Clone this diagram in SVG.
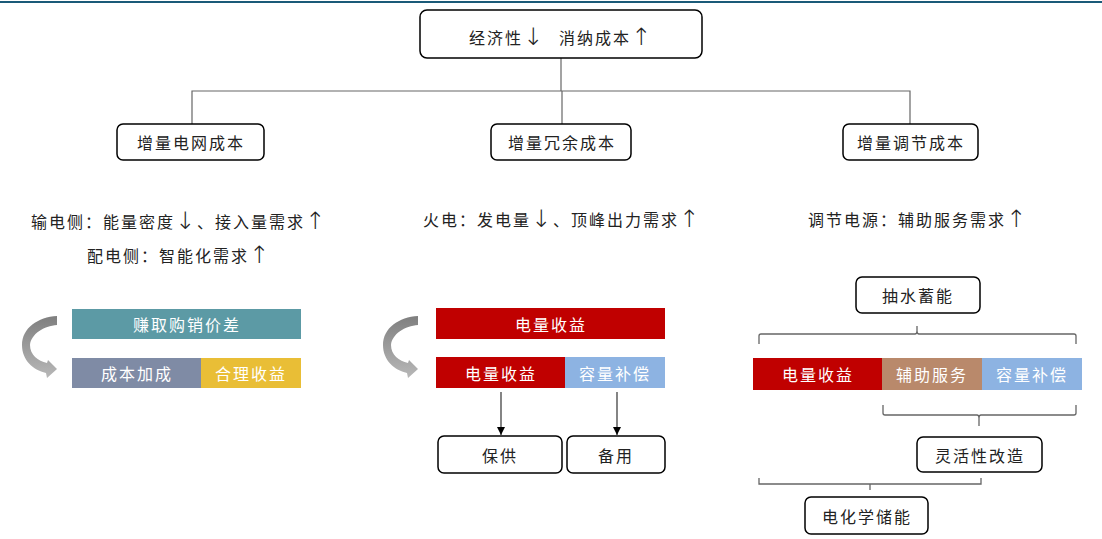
<svg xmlns="http://www.w3.org/2000/svg" width="1102" height="539" viewBox="0 0 1102 539">
<defs>
<style>
.box{fill:#fff;stroke:#000;stroke-width:1.5}
.t{font-family:"Noto Sans CJK SC","Noto Sans",sans-serif;font-size:16px;fill:#222;text-anchor:middle;dominant-baseline:central;letter-spacing:2px}
.w{fill:#fff}
.ln{fill:none;stroke:#666;stroke-width:1.2}
.br{fill:none;stroke:#666;stroke-width:1.3}
.ar{fill:none;stroke:#333;stroke-width:1.2;marker-end:url(#ah)}
.big{font-family:"DejaVu Sans",sans-serif;font-size:24px;font-weight:300}
</style>
<marker id="ah" viewBox="0 0 10 10" refX="10" refY="5" markerWidth="7" markerHeight="7" orient="auto"><path d="M0,0 L10,5 L0,10 Z" fill="#000"/></marker>
<linearGradient id="cg" x1="0" y1="0" x2="0" y2="1"><stop offset="0" stop-color="#7f7f7f"/><stop offset="1" stop-color="#b8b8b8"/></linearGradient>
<path id="carrow" d="M57,316 L57,325 C44,326 31,334 30,345 C30,355 38,361 47,363 L48,360 L57,369 L47,378 L46,373 C33,370 22,360 22,345 C22,328 38,317 57,316 Z" fill="url(#cg)"/>
</defs>
<rect width="1102" height="539" fill="#fff"/>
<line x1="0" y1="2" x2="1102" y2="2" stroke="#1a5a78" stroke-width="2"/>
<g id="connectors">
<polyline class="ln" points="561,58 561,91"/>
<polyline class="ln" points="192,124 192,91 910,91 910,124"/>
<line class="ln" x1="562" y1="91" x2="562" y2="124"/>
<line class="ar" x1="501" y1="392" x2="501" y2="435"/>
<line class="ar" x1="617" y1="392" x2="617" y2="435"/>
<path class="br" d="M759,344 L759,336 Q759,334 761,334 L915,334 Q917,334 917,331 L917,326 M917,331 Q917,334 919,334 L1074,334 Q1076,334 1076,336 L1076,344"/>
<path class="br" d="M883,405 L883,413 Q883,415 885,415 L977,415 Q979,415 979,418 L979,426 M979,418 Q979,415 981,415 L1074,415 Q1076,415 1076,413 L1076,405"/>
<path class="br" d="M759,478 L759,484 L981,484 L981,478 M870,484 L870,490"/>
</g>
<g id="top"><rect class="box" x="420" y="10" width="282" height="48" rx="7"/>
<text class="t" x="561" y="37" letter-spacing="3">经济性<tspan class="big">↓</tspan><tspan dx="14">消纳成本</tspan><tspan class="big">↑</tspan></text></g>
<g id="n1"><rect class="box" x="117" y="124" width="147" height="36" rx="6"/><text class="t" x="191" y="142">增量电网成本</text></g>
<g id="n2"><rect class="box" x="491" y="124" width="140" height="36" rx="6"/><text class="t" x="562" y="142">增量冗余成本</text></g>
<g id="n3"><rect class="box" x="843" y="124" width="135" height="36" rx="6"/><text class="t" x="911" y="142">增量调节成本</text></g>
<g id="desc1"><text class="t" x="179" y="221" letter-spacing="3">输电侧：能量密度<tspan class="big">↓</tspan>、接入量需求<tspan class="big">↑</tspan></text>
<text class="t" x="179" y="255" letter-spacing="3">配电侧：智能化需求<tspan class="big">↑</tspan></text></g>
<g id="desc2"><text class="t" x="562" y="219" letter-spacing="3">火电：发电量<tspan class="big">↓</tspan>、顶峰出力需求<tspan class="big">↑</tspan></text></g>
<g id="desc3"><text class="t" x="918" y="219" letter-spacing="3">调节电源：辅助服务需求<tspan class="big">↑</tspan></text></g>
<g id="left">
<use href="#carrow"/>
<rect x="72" y="309" width="229" height="30" fill="#5c9aa5"/><text class="t w" x="187" y="324">赚取购销价差</text>
<rect x="72" y="358" width="129" height="30" fill="#7f8ba5"/><text class="t w" x="137" y="373">成本加成</text>
<rect x="201" y="358" width="100" height="30" fill="#e9be36"/><text class="t w" x="251" y="373">合理收益</text>
</g>
<g id="mid">
<use href="#carrow" transform="translate(361,0)"/>
<rect x="436" y="308" width="229" height="31" fill="#c00000"/><text class="t w" x="551" y="324">电量收益</text>
<rect x="436" y="357" width="129" height="31" fill="#c00000"/><text class="t w" x="501" y="373">电量收益</text>
<rect x="565" y="357" width="100" height="31" fill="#8db3e2"/><text class="t w" x="615" y="373">容量补偿</text>
</g>
<g id="baogong"><rect class="box" x="438" y="436" width="124" height="37" rx="6"/><text class="t" x="500" y="455">保供</text></g>
<g id="beiyong"><rect class="box" x="567" y="436" width="98" height="37" rx="6"/><text class="t" x="616" y="455">备用</text></g>
<g id="right">
<rect x="753" y="358" width="129" height="32" fill="#c00000"/><text class="t w" x="818" y="374">电量收益</text>
<rect x="882" y="358" width="100" height="32" fill="#b9896b"/><text class="t w" x="932" y="374">辅助服务</text>
<rect x="982" y="358" width="100" height="32" fill="#8db3e2"/><text class="t w" x="1032" y="374">容量补偿</text>
</g>
<g id="chouxu"><rect class="box" x="856" y="277" width="124" height="36" rx="6"/><text class="t" x="918" y="295">抽水蓄能</text></g>
<g id="linghuo"><rect class="box" x="917" y="437" width="125" height="35" rx="6"/><text class="t" x="980" y="455">灵活性改造</text></g>
<g id="dianhua"><rect class="box" x="805" y="497" width="123" height="37" rx="6"/><text class="t" x="867" y="516">电化学储能</text></g>
</svg>
